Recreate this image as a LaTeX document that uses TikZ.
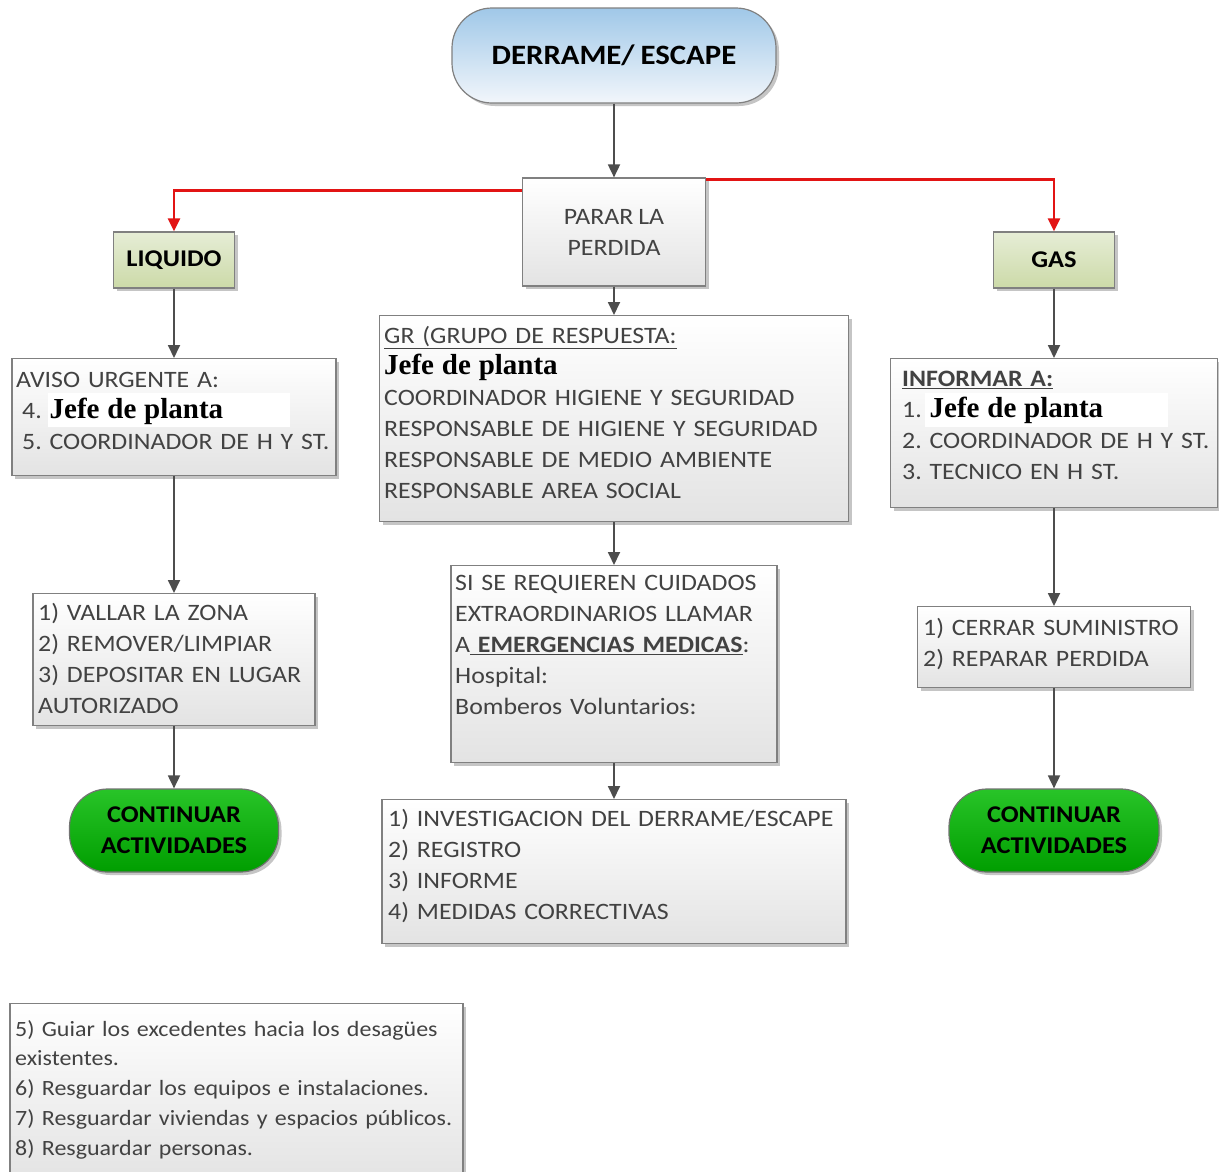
\documentclass[tikz,border=0pt]{standalone}
\usepackage{fontspec}
\setmainfont{Carlito}[FakeStretch=1.1,WordSpace=0.85]
\newfontfamily\jefefont{Liberation Serif}
\usetikzlibrary{arrows.meta,shadows,calc}
\definecolor{txtgray}{RGB}{66,66,66}
\definecolor{bordergray}{RGB}{128,128,128}
\definecolor{arrowgray}{RGB}{77,77,77}
\definecolor{redline}{RGB}{226,20,20}
\definecolor{blueTop}{RGB}{160,200,232}
\definecolor{blueBot}{RGB}{242,246,251}
\definecolor{greenTop}{RGB}{40,196,40}
\definecolor{greenBot}{RGB}{0,158,0}
\definecolor{olTop}{RGB}{230,237,214}
\definecolor{olBot}{RGB}{204,218,168}
\newcommand\jefe[1]{{\jefefont\bfseries\fontsize{29}{31}\selectfont\color{black}#1}}
\frenchspacing
\begin{document}
\frenchspacing
\begin{tikzpicture}[x=1pt,y=-1pt,
  shadowed/.style={drop shadow={shadow xshift=3pt,shadow yshift=-3pt,fill=black!45,opacity=.5}},
  box/.style={shadowed, draw=bordergray, line width=1.2pt, top color=white, bottom color=black!11, inner sep=0pt, anchor=north},
  pill/.style={shadowed, draw=bordergray, line width=1.2pt, rounded corners=40pt, inner sep=0pt, align=center},
  txt/.style={anchor=base west, inner sep=0pt, text width=470pt, align=left, text=txtgray, font=\frenchspacing\fontsize{23.5}{31}\selectfont},
  flow/.style={draw=arrowgray, line width=1.8pt, -{Triangle[width=12pt,length=13pt]}},
  redflow/.style={draw=redline, line width=2.6pt, -{Triangle[width=12pt,length=13pt]}}
]
\useasboundingbox[fill=white] (0,0) rectangle (1219,1171);

% title and top
\node[pill, top color=blueTop, bottom color=blueBot, minimum width=324pt, minimum height=95pt,
      font=\bfseries\fontsize{28}{31}\selectfont] (derrame) at (614,55.5) {DERRAME/ ESCAPE};
\node[box, anchor=center, minimum width=183pt, minimum height=108pt, align=center, text=txtgray,
      font=\fontsize{23.5}{31}\selectfont] (parar) at (614,232) {PARAR LA\\PERDIDA};
\node[box, anchor=center, top color=olTop, bottom color=olBot, minimum width=121pt, minimum height=56pt,
      font=\bfseries\fontsize{24}{31}\selectfont] (liq) at (174,260) {LIQUIDO};
\node[box, anchor=center, top color=olTop, bottom color=olBot, minimum width=121pt, minimum height=56pt,
      font=\bfseries\fontsize{24}{31}\selectfont] (gas) at (1054,260) {GAS};

% left column
\node[box, minimum width=324pt, minimum height=117pt] (aviso) at (174,358) {};
\fill[white] (48,393) rectangle (290,427);
\node[txt] (taviso) at (16,387) {AVISO URGENTE A:\\
  \hspace*{6pt}4. \jefe{Jefe de planta}\\
  \hspace*{6pt}5. COORDINADOR DE H Y ST.};
\node[box, minimum width=282pt, minimum height=132pt] (vallar) at (174,593) {};
\node[txt] (tvallar) at (38,620.5) {1) VALLAR LA ZONA\\2) REMOVER/LIMPIAR\\3) DEPOSITAR EN LUGAR\\AUTORIZADO};
\node[pill, top color=greenTop, bottom color=greenBot, draw=black!55, minimum width=209pt, minimum height=83pt,
      rounded corners=38pt, font=\bfseries\fontsize{24}{31}\selectfont] (cont1) at (174,830.5) {CONTINUAR\\ACTIVIDADES};

% centre column
\node[box, minimum width=469pt, minimum height=206pt] (gr) at (614,315) {};
\node[txt] (tgr) at (384,343.5) {\underline{GR (GRUPO DE RESPUESTA:}\\
  \jefe{Jefe de planta}\\
  COORDINADOR HIGIENE Y SEGURIDAD\\
  RESPONSABLE DE HIGIENE Y SEGURIDAD\\
  RESPONSABLE DE MEDIO AMBIENTE\\
  RESPONSABLE AREA SOCIAL};
\node[box, minimum width=326pt, minimum height=197pt] (si) at (614,565) {};
\node[txt] (tsi) at (455,590.5) {SI SE REQUIEREN CUIDADOS\\
  EXTRAORDINARIOS LLAMAR\\
  A\underline{ \textbf{EMERGENCIAS MEDICAS}}:\\
  Hospital:\\
  Bomberos Voluntarios:};
\node[box, minimum width=464pt, minimum height=144pt] (inv) at (614,799) {};
\node[txt] (tinv) at (388,826.5) {1) INVESTIGACION DEL DERRAME/ESCAPE\\2) REGISTRO\\3) INFORME\\4) MEDIDAS CORRECTIVAS};

% right column
\node[box, minimum width=327pt, minimum height=149pt] (inf) at (1054,358) {};
\fill[white] (925,393) rectangle (1168,427);
\node[txt] (tinf) at (902,386.5) {\underline{\textbf{INFORMAR A:}}\\
  1. \jefe{Jefe de planta}\\
  2. COORDINADOR DE H Y ST.\\
  3. TECNICO EN H ST.};
\node[box, minimum width=273pt, minimum height=81pt] (cerrar) at (1054,606) {};
\node[txt] (tcerrar) at (923,635.5) {1) CERRAR SUMINISTRO\\2) REPARAR PERDIDA};
\node[pill, top color=greenTop, bottom color=greenBot, draw=black!55, minimum width=210pt, minimum height=83pt,
      rounded corners=38pt, font=\bfseries\fontsize{24}{31}\selectfont] (cont2) at (1054,830.5) {CONTINUAR\\ACTIVIDADES};

% bottom note
\node[box, minimum width=453pt, minimum height=180pt] (nota) at (236.5,1003) {};
\node[txt, font=\frenchspacing\fontsize{21.8}{29.75}\selectfont] (tnota) at (15,1036) {5) Guiar los excedentes hacia los desagües\\
  existentes.\\
  6) Resguardar los equipos e instalaciones.\\
  7) Resguardar viviendas y espacios públicos.\\
  8) Resguardar personas.};

% connectors
\draw[flow] (derrame.south) -- (parar.north);
\draw[redflow] ($(parar.north west)+(0,13)$) -| (liq.north);
\draw[redflow] ($(parar.north east)+(0,2)$) -| (gas.north);
\draw[flow] (liq.south) -- (aviso.north);
\draw[flow] (aviso.south) -- (vallar.north);
\draw[flow] (vallar.south) -- (cont1.north);
\draw[flow] (parar.south) -- (gr.north);
\draw[flow] (gr.south) -- (si.north);
\draw[flow] (si.south) -- (inv.north);
\draw[flow] (gas.south) -- (inf.north);
\draw[flow] (inf.south) -- (cerrar.north);
\draw[flow] (cerrar.south) -- (cont2.north);
\end{tikzpicture}
\end{document}
